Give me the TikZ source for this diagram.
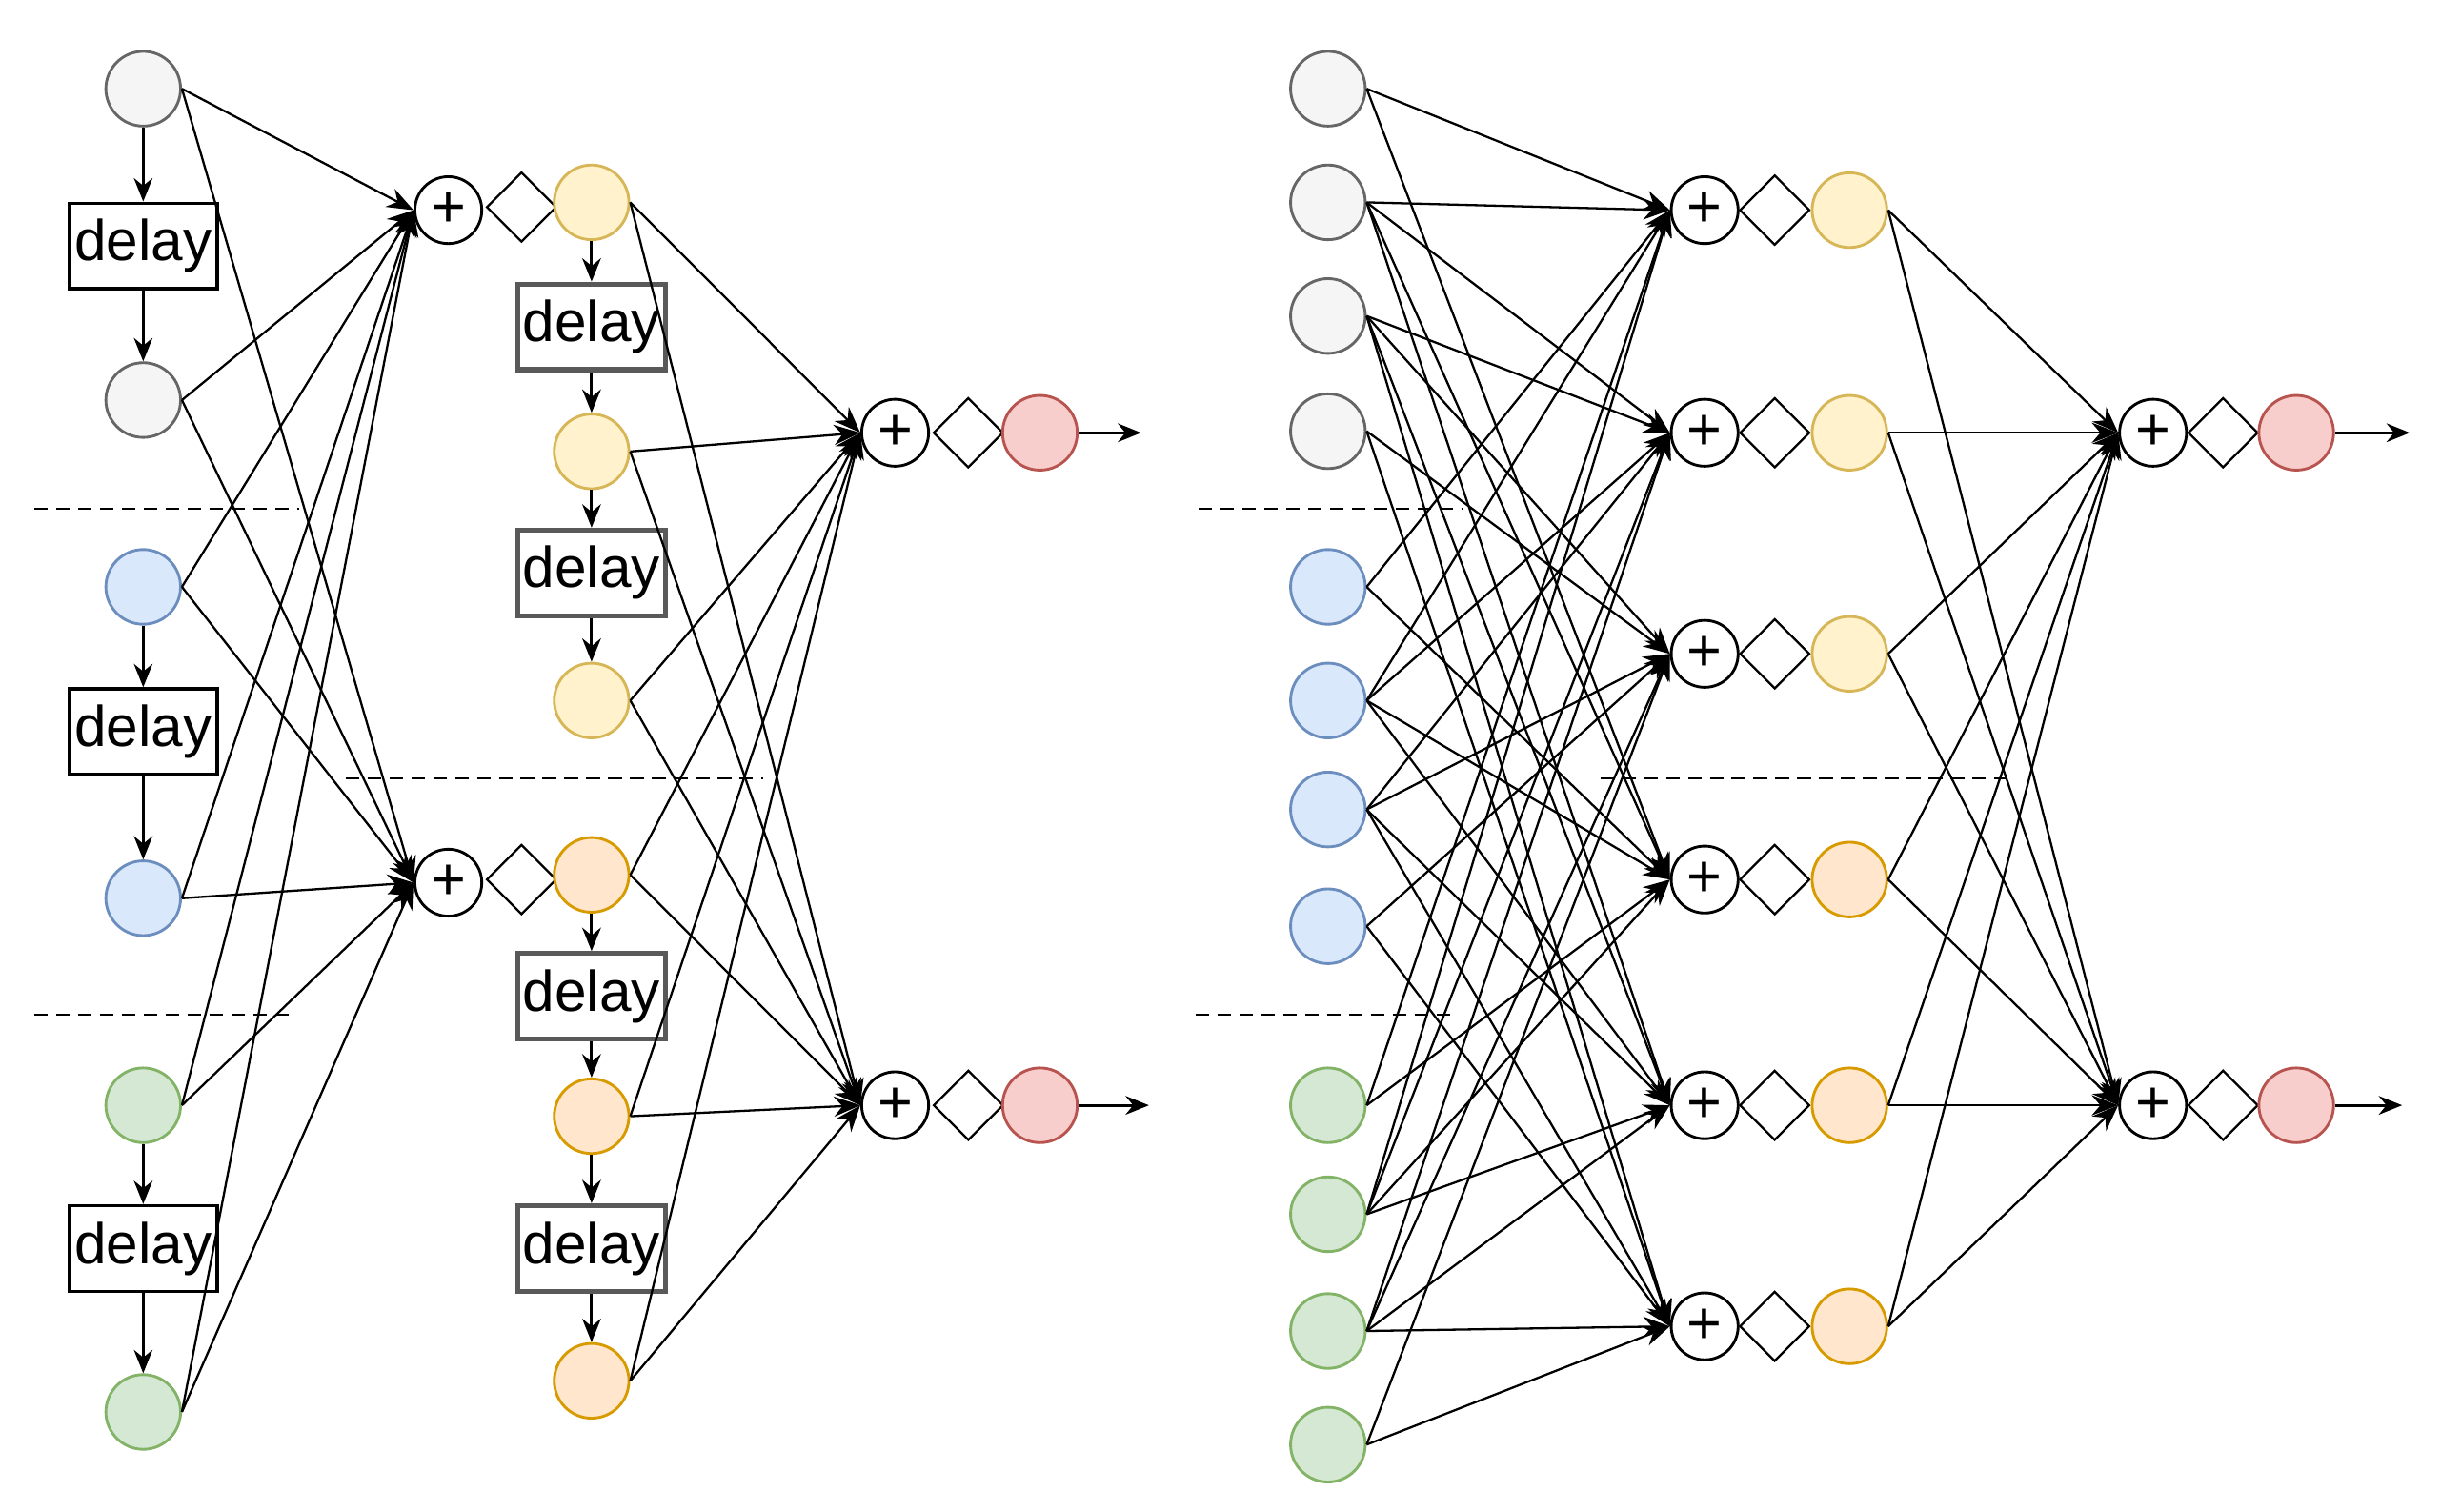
\documentclass[tikz,border=0pt]{standalone}
\usepackage{fontspec}
\setmainfont{Liberation Sans}
\usetikzlibrary{shapes.geometric,arrows.meta}
\definecolor{gF}{HTML}{F5F5F5}\definecolor{gS}{HTML}{666666}
\definecolor{bF}{HTML}{DAE8FC}\definecolor{bS}{HTML}{6C8EBF}
\definecolor{nF}{HTML}{D5E8D4}\definecolor{nS}{HTML}{82B366}
\definecolor{yF}{HTML}{FFF2CC}\definecolor{yS}{HTML}{D6B656}
\definecolor{oF}{HTML}{FFE6CC}\definecolor{oS}{HTML}{D79B00}
\definecolor{rF}{HTML}{F8CECC}\definecolor{rS}{HTML}{B85450}
\begin{document}
\begin{tikzpicture}[x=0.02cm,y=-0.02cm,
 neu/.style={circle,draw,line width=1pt,minimum size=0.96cm,inner sep=0pt},
 gr/.style={neu,fill=gF,draw=gS}, bl/.style={neu,fill=bF,draw=bS},
 gn/.style={neu,fill=nF,draw=nS}, ye/.style={neu,fill=yF,draw=yS},
 og/.style={neu,fill=oF,draw=oS}, rd/.style={neu,fill=rF,draw=rS},
 sum/.style={circle,draw,line width=1pt,minimum size=0.86cm,inner sep=0pt,font=\fontsize{22}{24}\selectfont},
 dia/.style={diamond,draw,line width=0.8pt,minimum size=0.9cm,inner sep=0pt},
 dl/.style={draw,line width=1.2pt,minimum width=1.9cm,minimum height=1.1cm,inner sep=0pt,font=\fontsize{21}{24}\selectfont},
 dl2/.style={dl,draw=black!65,line width=1.8pt},
 ar/.style={-{Stealth[length=0.34cm,width=0.26cm]},line width=0.8pt},
 sa/.style={-{Stealth[length=0.3cm,width=0.24cm]},line width=1.1pt},
 ds/.style={dashed,line width=0.8pt,dash pattern=on 5pt off 3pt}]
\useasboundingbox (0,0) rectangle (1568,971);
% ---------- left ----------
\node[gr] (a1) at (92,57) {}; \node[gr] (a2) at (92,257) {};
\node[bl] (a3) at (92,377) {}; \node[bl] (a4) at (92,577) {};
\node[gn] (a5) at (92,710) {}; \node[gn] (a6) at (92,907) {};
\node[dl] (d1) at (92,158) {delay}; \node[dl] (d2) at (92,470) {delay}; \node[dl] (d3) at (92,802) {delay};
\foreach \u/\d/\v in {a1/d1/a2,a3/d2/a4,a5/d3/a6}{\draw[sa] (\u)--(\d); \draw[sa] (\d)--(\v);}
\node[sum] (s1) at (288,135) {+}; \node[dia] (q1) at (335,133) {};
\node[sum] (s2) at (288,567) {+}; \node[dia] (q2) at (335,565) {};
\node[ye] (h1) at (380,130) {}; \node[ye] (h2) at (380,290) {}; \node[ye] (h3) at (380,450) {};
\node[og] (h4) at (380,562) {}; \node[og] (h5) at (380,717) {}; \node[og] (h6) at (380,887) {};
\node[dl2] (e1) at (380,210) {delay}; \node[dl2] (e2) at (380,368) {delay};
\node[dl2] (e3) at (380,640) {delay}; \node[dl2] (e4) at (380,802) {delay};
\foreach \u/\d/\v in {h1/e1/h2,h2/e2/h3,h4/e3/h5,h5/e4/h6}{\draw[sa] (\u)--(\d); \draw[sa] (\d)--(\v);}
\node[sum] (t1) at (575,278) {+}; \node[dia] (p1) at (622,278) {}; \node[rd] (r1) at (668,278) {};
\node[sum] (t2) at (575,710) {+}; \node[dia] (p2) at (622,710) {}; \node[rd] (r2) at (668,710) {};
\coordinate (o1) at (733,278); \coordinate (o2) at (738,710);
\draw[sa] (r1)--(o1); \draw[sa] (r2)--(o2);
\foreach \i in {a1,a2,a3,a4,a5,a6}{\draw[ar] (\i.east)--(s1.west); \draw[ar] (\i.east)--(s2.west);}
\foreach \i in {h1,h2,h3,h4,h5,h6}{\draw[ar] (\i.east)--(t1.west); \draw[ar] (\i.east)--(t2.west);}
\draw[ds] (22,327)--(192,327); \draw[ds] (22,652)--(190,652); \draw[ds] (222,500)--(490,500);
% ---------- right ----------
\foreach \n/\y/\s in {1/57/gr,2/130/gr,3/203/gr,4/277/gr,5/377/bl,6/450/bl,7/520/bl,8/595/bl,9/710/gn,10/780/gn,11/855/gn,12/928/gn}
  {\node[\s] (i\n) at (853,\y) {};}
\foreach \n/\y/\s in {1/135/ye,2/278/ye,3/420/ye,4/565/og,5/710/og,6/852/og}
  {\node[sum] (u\n) at (1095,\y) {+}; \node[dia] (w\n) at (1140,\y) {}; \node[\s] (k\n) at (1188,\y) {};}
\node[sum] (v1) at (1383,278) {+}; \node[dia] (x1) at (1428,278) {}; \node[rd] (z1) at (1475,278) {};
\node[sum] (v2) at (1383,710) {+}; \node[dia] (x2) at (1428,710) {}; \node[rd] (z2) at (1475,710) {};
\coordinate (o3) at (1548,278); \coordinate (o4) at (1543,710);
\draw[sa] (z1)--(o3); \draw[sa] (z2)--(o4);
\foreach \s/\a/\b in {1/1/2,2/2/3,3/3/4,4/1/2,5/2/3,6/3/4}{
  \foreach \g in {0,4,8}{
    \pgfmathtruncatemacro\ia{\a+\g}\pgfmathtruncatemacro\ib{\b+\g}
    \draw[ar] (i\ia.east)--(u\s.west); \draw[ar] (i\ib.east)--(u\s.west);}}
\foreach \i in {1,...,6}{\draw[ar] (k\i.east)--(v1.west); \draw[ar] (k\i.east)--(v2.west);}
\draw[ds] (770,327)--(940,327); \draw[ds] (768,652)--(935,652); \draw[ds] (1028,500)--(1290,500);
\end{tikzpicture}
\end{document}
